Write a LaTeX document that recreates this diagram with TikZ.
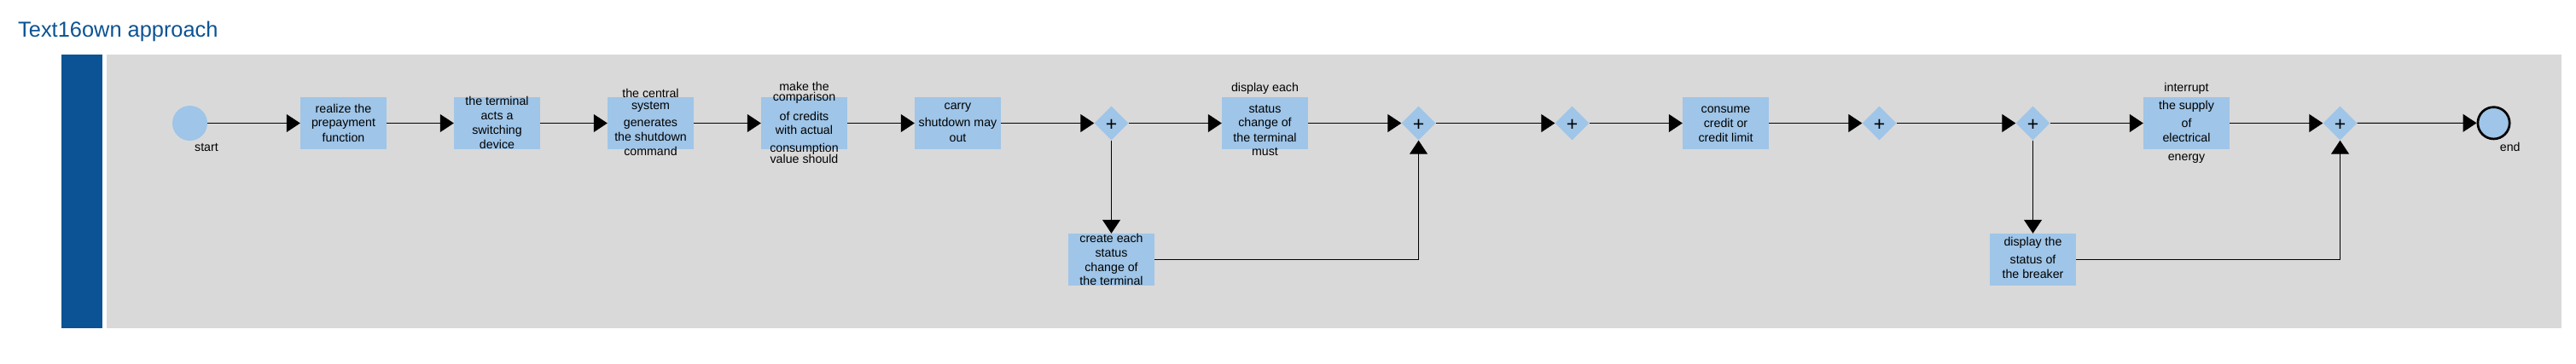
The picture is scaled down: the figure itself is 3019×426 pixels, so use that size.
\documentclass[tikz,border=0pt]{standalone}
\usepackage{fontspec}
\setmainfont{Liberation Sans}
\usetikzlibrary{shapes.geometric,arrows.meta}
\definecolor{boxblue}{HTML}{9FC5E8}
\definecolor{poolgray}{HTML}{D9D9D9}
\definecolor{barblue}{HTML}{0B5394}
\newcommand\TL[1]{\hbox to 0pt{\hss\rule[-3pt]{0pt}{13.4pt}#1\hss}}
\newcommand\TG[1]{\vskip\dimexpr #1pt - 13.4pt\relax}
\newcommand\Tx[2]{\raisebox{#1pt}[0pt][0pt]{\vbox{\offinterlineskip #2}}}
\tikzset{
  task/.style={fill=boxblue, minimum width=101pt, minimum height=61pt, inner sep=0pt,
    font=\fontsize{14.2pt}{17pt}\selectfont},
  gate/.style={diamond, aspect=1, fill=boxblue, minimum width=40pt, minimum height=40pt,
    inner sep=0pt, font=\fontsize{23pt}{23pt}\selectfont},
  lbl/.style={font=\fontsize{14.2pt}{17pt}\selectfont, inner sep=0pt, anchor=center},
  flow/.style={draw, line width=1pt, -{Triangle[length=16pt,width=21pt]}},
}
\begin{document}
\begin{tikzpicture}[x=1pt, y={(0pt,-1pt)}]
\useasboundingbox (0,0) rectangle (3019,426);
\fill[white] (0,0) rectangle (3019,426);
\node[anchor=base west, inner sep=0pt, text=barblue, font=\fontsize{25.4pt}{30pt}\selectfont] (title) at (21,43) {Text16own approach};
\node[fill=barblue, anchor=north west, minimum width=48pt, minimum height=321pt, inner sep=0pt, outer sep=0pt] (lane) at (72,64) {};
\node[fill=poolgray, anchor=north west, minimum width=2877pt, minimum height=321pt, inner sep=0pt, outer sep=0pt] (pool) at (125,64) {};

\node[circle, fill=boxblue, minimum size=41pt, inner sep=0pt,
  label={[lbl, xshift=19.5pt, yshift=-7.5pt]below:start}] (start) at (222.5,144.5) {};
\node[task] (t1) at (402.5,144.5) {\Tx{-21.5}{\TL{realize the}\TG{16}\TL{prepayment}\TG{18}\TL{function}}};
\node[task] (t2) at (582.5,144.5) {\Tx{-30.2}{\TL{the terminal}\TG{17}\TL{acts a}\TG{17}\TL{switching}\TG{17}\TL{device}}};
\node[task] (t3) at (762.5,144.5) {\Tx{-38.2}{\TL{the central}\TG{13.3}\TL{system}\TG{20}\TL{generates}\TG{17.7}\TL{the shutdown}\TG{17}\TL{command}}};
\node[task] (t4) at (942.5,144.5) {\Tx{-47.2}{\TL{make the}\TG{11.3}\TL{comparison}\TG{23}\TL{of credits}\TG{16.9}\TL{with actual}\TG{20.1}\TL{consumption}\TG{13.7}\TL{value should}}};
\node[task] (t5) at (1122.5,144.5) {\Tx{-21.5}{\TL{carry}\TG{20}\TL{shutdown may}\TG{18}\TL{out}}};
\node[gate] (g1) at (1302.5,144.5) {\raisebox{-9.4pt}[0pt][0pt]{+}};
\node[task] (disp) at (1482.5,144.5) {\Tx{-38.2}{\TL{display each}\TG{24.3}\TL{status}\TG{16}\TL{change of}\TG{18}\TL{the terminal}\TG{16.7}\TL{must}}};
\node[task] (create) at (1302.5,304.5) {\Tx{-30.2}{\TL{create each}\TG{17}\TL{status}\TG{17}\TL{change of}\TG{16.7}\TL{the terminal}}};
\node[gate] (g2) at (1662.5,144.5) {\raisebox{-9.4pt}[0pt][0pt]{+}};
\node[gate] (g3) at (1842.5,144.5) {\raisebox{-9.4pt}[0pt][0pt]{+}};
\node[task] (cons) at (2022.5,144.5) {\Tx{-21.5}{\TL{consume}\TG{17}\TL{credit or}\TG{17}\TL{credit limit}}};
\node[gate] (g4) at (2202.5,144.5) {\raisebox{-9.4pt}[0pt][0pt]{+}};
\node[gate] (g5) at (2382.5,144.5) {\raisebox{-9.4pt}[0pt][0pt]{+}};
\node[task] (intr) at (2562.5,144.5) {\Tx{-43.5}{\TL{interrupt}\TG{20.3}\TL{the supply}\TG{21}\TL{of}\TG{17}\TL{electrical}\TG{22}\TL{energy}}};
\node[task] (brk) at (2382.5,304.5) {\Tx{-21.5}{\TL{display the}\TG{21}\TL{status of}\TG{17}\TL{the breaker}}};
\node[gate] (g6) at (2742.5,144.5) {\raisebox{-9.4pt}[0pt][0pt]{+}};
\node[circle, fill=boxblue, draw=black, line width=2.7pt, minimum size=37.3pt, inner sep=0pt,
  label={[lbl, xshift=19.2pt, yshift=-7.7pt]below:end}] (end) at (2922.5,144.3) {};

\draw[flow] (start) -- (t1);
\draw[flow] (t1) -- (t2);
\draw[flow] (t2) -- (t3);
\draw[flow] (t3) -- (t4);
\draw[flow] (t4) -- (t5);
\draw[flow] (t5) -- (g1);
\draw[flow] (g1) -- (disp);
\draw[flow] (disp) -- (g2);
\draw[flow] (g1) -- (create);
\draw[flow] (create) -| (g2);
\draw[flow] (g2) -- (g3);
\draw[flow] (g3) -- (cons);
\draw[flow] (cons) -- (g4);
\draw[flow] (g4) -- (g5);
\draw[flow] (g5) -- (intr);
\draw[flow] (g5) -- (brk);
\draw[flow] (brk) -| (g6);
\draw[flow] (intr) -- (g6);
\draw[flow] (g6) -- (end);
\end{tikzpicture}
\end{document}
